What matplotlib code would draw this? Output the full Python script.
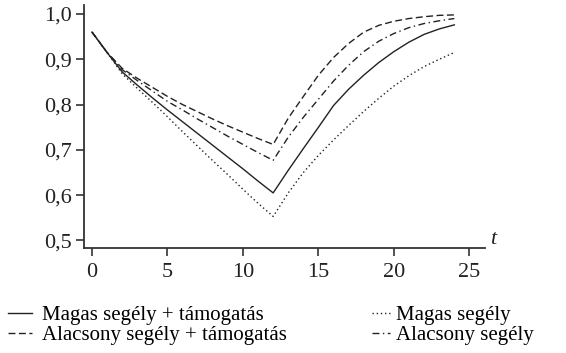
import matplotlib
matplotlib.use("Agg")
import matplotlib.pyplot as plt
from matplotlib.ticker import FuncFormatter

plt.rcParams['font.family'] = ['Liberation Serif', 'DejaVu Serif']

# time axis (periods)
t = list(range(0, 25))

# survival share per scenario
magas_tam = [0.960, 0.915, 0.872, 0.843, 0.815, 0.788, 0.762, 0.736, 0.710, 0.684, 0.658, 0.631, 0.605,
             0.655, 0.703, 0.750, 0.798, 0.834, 0.865, 0.893, 0.917, 0.938, 0.955, 0.967, 0.976]
magas = [0.960, 0.915, 0.868, 0.836, 0.805, 0.773, 0.740, 0.708, 0.676, 0.645, 0.613, 0.582, 0.553,
         0.605, 0.650, 0.688, 0.722, 0.754, 0.785, 0.814, 0.841, 0.864, 0.884, 0.900, 0.915]
alacsony_tam = [0.960, 0.915, 0.880, 0.858, 0.838, 0.818, 0.800, 0.784, 0.768, 0.753, 0.739, 0.725, 0.712,
                0.770, 0.818, 0.865, 0.904, 0.935, 0.960, 0.975, 0.984, 0.990, 0.994, 0.997, 0.998]
alacsony = [0.960, 0.915, 0.877, 0.853, 0.830, 0.807, 0.788, 0.768, 0.749, 0.730, 0.712, 0.694, 0.677,
            0.728, 0.772, 0.812, 0.852, 0.887, 0.917, 0.940, 0.957, 0.970, 0.979, 0.985, 0.990]

labels = ["Magas segély + támogatás", "Magas segély",
          "Alacsony segély + támogatás", "Alacsony segély"]

fig = plt.figure(figsize=(5.66, 3.53), dpi=100)
ax = fig.add_axes([0.1484, 0.2975, 0.7085, 0.6884])

c = "#222222"
l1, = ax.plot(t, magas_tam, color=c, lw=1.0, linestyle="-")
l2, = ax.plot(t, magas, color=c, lw=1.0, linestyle=(0, (1, 2)))
l3, = ax.plot(t, alacsony_tam, color=c, lw=1.0, linestyle=(0, (5, 2.5)))
l4, = ax.plot(t, alacsony, color=c, lw=1.0, linestyle=(0, (5, 2.5, 1, 2.5)))

ax.set_xlim(-0.53, 26.03)
ax.set_ylim(0.4834, 1.0199)
ax.set_xticks([0, 5, 10, 15, 20, 25])
ax.set_yticks([0.5, 0.6, 0.7, 0.8, 0.9, 1.0])
ax.yaxis.set_major_formatter(FuncFormatter(lambda v, p: f"{v:.1f}".replace(".", ",")))

for side in ("top", "right"):
    ax.spines[side].set_visible(False)
for side in ("left", "bottom"):
    ax.spines[side].set_linewidth(1.3)
    ax.spines[side].set_color("#333333")
ax.tick_params(axis="both", direction="out", length=6, width=1.2, color="#333333",
               labelsize=16, labelcolor="#222222")
ax.tick_params(axis="x", pad=5)
ax.tick_params(axis="y", pad=3)

ax.text(1.02, 0.035, "t", transform=ax.transAxes, fontsize=16, style="italic",
        ha="center", va="center", color="#222222")

fig.legend([l1, l3], [labels[0], labels[2]], loc="upper left",
           bbox_to_anchor=(0.0, 0.157), frameon=False, fontsize=15,
           handlelength=1.15, handletextpad=0.45, labelspacing=0.0, borderaxespad=0)
fig.legend([l2, l4], [labels[1], labels[3]], loc="upper left",
           bbox_to_anchor=(0.643, 0.157), frameon=False, fontsize=15,
           handlelength=0.85, handletextpad=0.3, labelspacing=0.0, borderaxespad=0)

fig.savefig("out.png", dpi=100)
